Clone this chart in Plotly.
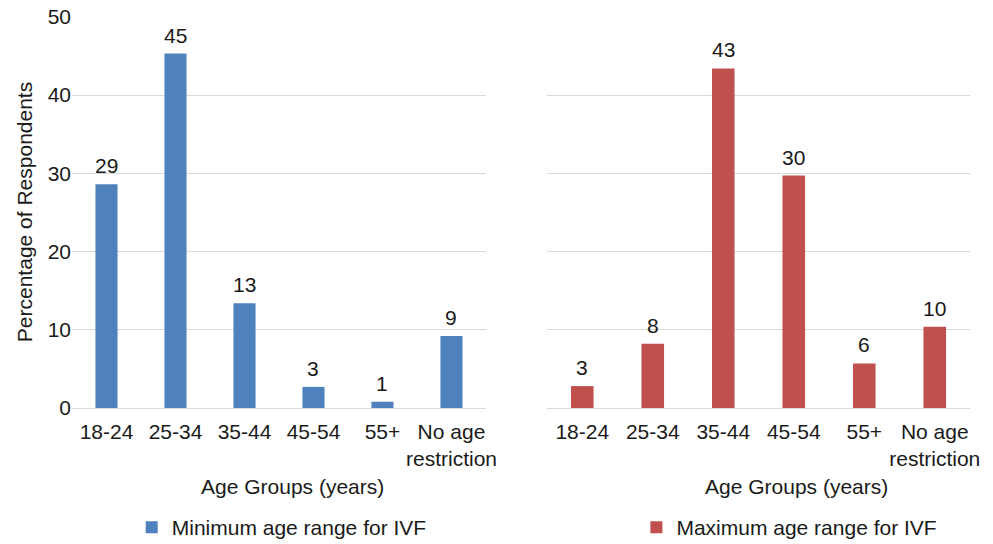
import plotly.graph_objects as go
from plotly.subplots import make_subplots

# data
categories = ["18-24", "25-34", "35-44", "45-54", "55+", "No age restriction"]
tick_labels = ["18-24", "25-34", "35-44", "45-54", "55+", "No age<br>restriction"]
min_age_pct = [28.6, 45.3, 13.4, 2.7, 0.8, 9.2]
max_age_pct = [2.8, 8.2, 43.4, 29.7, 5.7, 10.4]
y_ticks = [0, 10, 20, 30, 40, 50]

FONT = "Liberation Sans, Arial, sans-serif"
BLUE = "#4F81BD"
RED = "#C0504D"
GRID = "#d9d9d9"

fig = make_subplots(rows=1, cols=2, shared_yaxes=False)

series = [
    ("Minimum age range for IVF", min_age_pct, BLUE, "legend", 1),
    ("Maximum age range for IVF", max_age_pct, RED, "legend2", 2),
]

for name, vals, color, leg, col in series:
    fig.add_trace(go.Bar(
        x=categories, y=vals, name=name,
        marker=dict(color=color, line=dict(width=0)),
        width=0.32, legend=leg, showlegend=True,
    ), row=1, col=col)
    # data labels, rounded like the original
    for c, v in zip(categories, vals):
        fig.add_annotation(
            x=c, y=v, text=str(round(v)), showarrow=False,
            yanchor="bottom", yshift=5,
            font=dict(size=21, color="#1a1a1a", family=FONT),
            xref=f"x{col if col > 1 else ''}", yref=f"y{col if col > 1 else ''}",
        )

for col in (1, 2):
    fig.update_xaxes(
        tickvals=categories, ticktext=tick_labels, range=[-0.5, 5.5],
        showgrid=False, showline=False, ticks="", automargin=False,
        ticklabelstandoff=9,
        tickfont=dict(size=21, color="#1a1a1a", family=FONT),
        row=1, col=col,
    )
    fig.update_yaxes(
        range=[0, 50.1], tickvals=y_ticks, showgrid=True, gridcolor=GRID, gridwidth=1,
        zeroline=True, zerolinecolor=GRID, zerolinewidth=1, showline=False, ticks="",
        tickfont=dict(size=21, color="#1a1a1a", family=FONT),
        showticklabels=(col == 1), automargin=False, ticklabeloverflow="allow",
        row=1, col=col,
    )

fig.update_xaxes(domain=[0, 0.461], row=1, col=1)
fig.update_xaxes(domain=[0.529, 1], row=1, col=2)

fig.update_yaxes(
    title=dict(text="Percentage of Respondents", standoff=9,
               font=dict(size=21, color="#1a1a1a", family=FONT)),
    row=1, col=1,
)

# x axis titles sit slightly right of each panel's centre in the original
for xpos in (0.245, 0.807):
    fig.add_annotation(
        x=xpos, y=-0.2, xref="paper", yref="paper", text="Age Groups (years)",
        showarrow=False, xanchor="center", yanchor="middle",
        font=dict(size=21, color="#1a1a1a", family=FONT),
    )

leg_style = dict(orientation="h", yanchor="middle", y=-0.305, xanchor="left",
                 font=dict(size=21, color="#1a1a1a", family=FONT),
                 bgcolor="rgba(0,0,0,0)")

# page body has an 8px margin, so the figure is drawn 8px smaller
fig.update_layout(
    width=985, height=536,
    margin=dict(l=64, r=23, t=8, b=136, autoexpand=False),
    plot_bgcolor="white", paper_bgcolor="white",
    font=dict(family=FONT, color="#1a1a1a"),
    legend=dict(x=0.0665, **leg_style),
    legend2=dict(x=0.6285, **leg_style),
)

fig.write_html("out.html")
